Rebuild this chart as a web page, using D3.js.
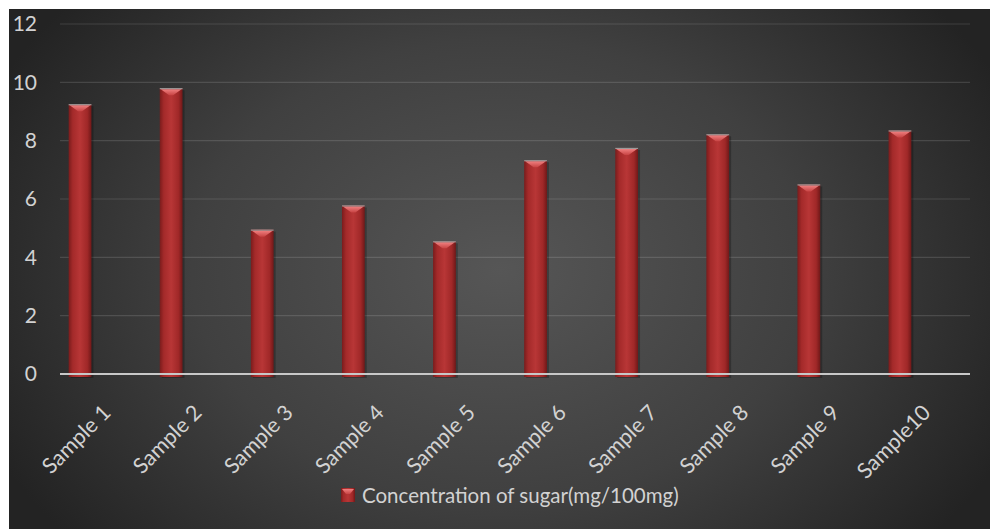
<!DOCTYPE html>
<html>
<head>
<meta charset="utf-8">
<script src="https://cdn.jsdelivr.net/npm/d3@7"></script>
<style>
  html, body { margin: 0; padding: 0; background: #fff; }
  svg { display: block; }
  text { font-family: Lato, "Open Sans", sans-serif; fill: #d2d2d2; }
</style>
</head>
<body>
<svg id="chart" width="990" height="529"></svg>
<script>
// chart data
const categories = ["Sample 1", "Sample 2", "Sample 3", "Sample 4", "Sample 5",
                    "Sample 6", "Sample 7", "Sample 8", "Sample 9", "Sample10"];
const sugar = [9.25, 9.8, 4.95, 5.78, 4.55, 7.33, 7.75, 8.22, 6.5, 8.35];
const yTicks = [0, 2, 4, 6, 8, 10, 12];
const seriesName = "Concentration of sugar(mg/100mg)";

const svg = d3.select("#chart"),
    width = +svg.attr("width"),
    height = +svg.attr("height");

const defs = svg.append("defs");

// dark background, a little lighter in the middle
const bg = defs.append("radialGradient")
    .attr("id", "bg")
    .attr("gradientUnits", "userSpaceOnUse")
    .attr("cx", 500).attr("cy", 270).attr("r", 560)
    .attr("gradientTransform", "translate(500,270) scale(1,0.75) translate(-500,-270)");
bg.append("stop").attr("offset", "0%").attr("stop-color", "#565656");
bg.append("stop").attr("offset", "55%").attr("stop-color", "#404040");
bg.append("stop").attr("offset", "100%").attr("stop-color", "#232323");

// cylinder-ish red for the bars
const barGrad = defs.append("linearGradient")
    .attr("id", "barGrad")
    .attr("x1", "0%").attr("x2", "100%").attr("y1", "0%").attr("y2", "0%");
barGrad.append("stop").attr("offset", "0%").attr("stop-color", "#7a1c1c");
barGrad.append("stop").attr("offset", "18%").attr("stop-color", "#a42a2a");
barGrad.append("stop").attr("offset", "50%").attr("stop-color", "#b83636");
barGrad.append("stop").attr("offset", "82%").attr("stop-color", "#a02828");
barGrad.append("stop").attr("offset", "100%").attr("stop-color", "#701818");

const capGrad = defs.append("linearGradient")
    .attr("id", "capGrad")
    .attr("x1", "0%").attr("x2", "0%").attr("y1", "0%").attr("y2", "100%");
capGrad.append("stop").attr("offset", "0%").attr("stop-color", "#f08080");
capGrad.append("stop").attr("offset", "100%").attr("stop-color", "#c84444");

svg.append("rect")
    .attr("x", 9).attr("y", 9)
    .attr("width", width - 9).attr("height", height - 9)
    .attr("fill", "url(#bg)");

const gridLeft = 60, gridRight = 970;

const x = d3.scaleBand()
    .domain(categories)
    .range([34.5, 945.5])
    .paddingInner(0.75)
    .paddingOuter(0.375);

const y = d3.scaleLinear()
    .domain([0, 12])
    .range([374, 24]);

// gridlines
svg.append("g")
    .selectAll("line")
    .data(yTicks.filter(d => d > 0))
    .enter().append("line")
    .attr("x1", gridLeft).attr("x2", gridRight)
    .attr("y1", d => y(d)).attr("y2", d => y(d))
    .attr("stroke", "#ffffff")
    .attr("stroke-opacity", 0.13)
    .attr("stroke-width", 1.2);

// y axis labels
const yAxis = d3.axisLeft(y).tickValues(yTicks).tickSize(0).tickPadding(0);
const yg = svg.append("g")
    .attr("transform", "translate(37,0)")
    .call(yAxis);
yg.select(".domain").remove();
yg.selectAll("text")
    .attr("font-size", 21)
    .attr("fill", "#d2d2d2")
    .attr("font-family", "Lato, sans-serif");

// bars
const bar = svg.append("g")
    .selectAll("g")
    .data(sugar)
    .enter().append("g");

bar.append("rect")
    .attr("x", (d, i) => x(categories[i]) + 2)
    .attr("y", d => y(d) + 2)
    .attr("width", x.bandwidth())
    .attr("height", d => y(0) - y(d) + 2)
    .attr("fill", "#000")
    .attr("opacity", 0.25);

bar.append("rect")
    .attr("x", (d, i) => x(categories[i]))
    .attr("y", d => y(d))
    .attr("width", x.bandwidth())
    .attr("height", d => y(0) - y(d) + 3)
    .attr("fill", "url(#barGrad)");

// light bevel at the top of each bar
bar.append("path")
    .attr("d", (d, i) => {
        const x0 = x(categories[i]), w = x.bandwidth(), t = y(d);
        return d3.line()([[x0 + 1, t + 1], [x0 + w - 1, t + 1],
                          [x0 + w / 2 + 2, t + 7], [x0 + w / 2 - 2, t + 7]]) + "Z";
    })
    .attr("fill", "url(#capGrad)");

bar.append("line")
    .attr("x1", (d, i) => x(categories[i]))
    .attr("x2", (d, i) => x(categories[i]) + x.bandwidth())
    .attr("y1", d => y(d) + 0.5)
    .attr("y2", d => y(d) + 0.5)
    .attr("stroke", "#9a9a9a")
    .attr("stroke-width", 1.2);

// zero line
svg.append("line")
    .attr("x1", gridLeft).attr("x2", gridRight)
    .attr("y1", y(0)).attr("y2", y(0))
    .attr("stroke", "#c8c8c8")
    .attr("stroke-width", 2);

// rotated category labels
svg.append("g")
    .selectAll("text")
    .data(categories)
    .enter().append("text")
    .attr("transform", d => "translate(" + (x(d) + x.bandwidth() / 2 + 32) + ",414) rotate(-45)")
    .attr("text-anchor", "end")
    .attr("font-size", 21.5)
    .text(d => d);

// legend
const legend = svg.append("g").attr("transform", "translate(341,488)");
legend.append("rect")
    .attr("width", 14).attr("height", 14)
    .attr("fill", "url(#barGrad)");
legend.append("path")
    .attr("d", d3.line()([[1, 1], [13, 1], [9, 6], [5, 6]]) + "Z")
    .attr("fill", "url(#capGrad)");
legend.append("text")
    .attr("x", 21).attr("y", 14.5)
    .attr("font-size", 20.5)
    .text(seriesName);
</script>
</body>
</html>
